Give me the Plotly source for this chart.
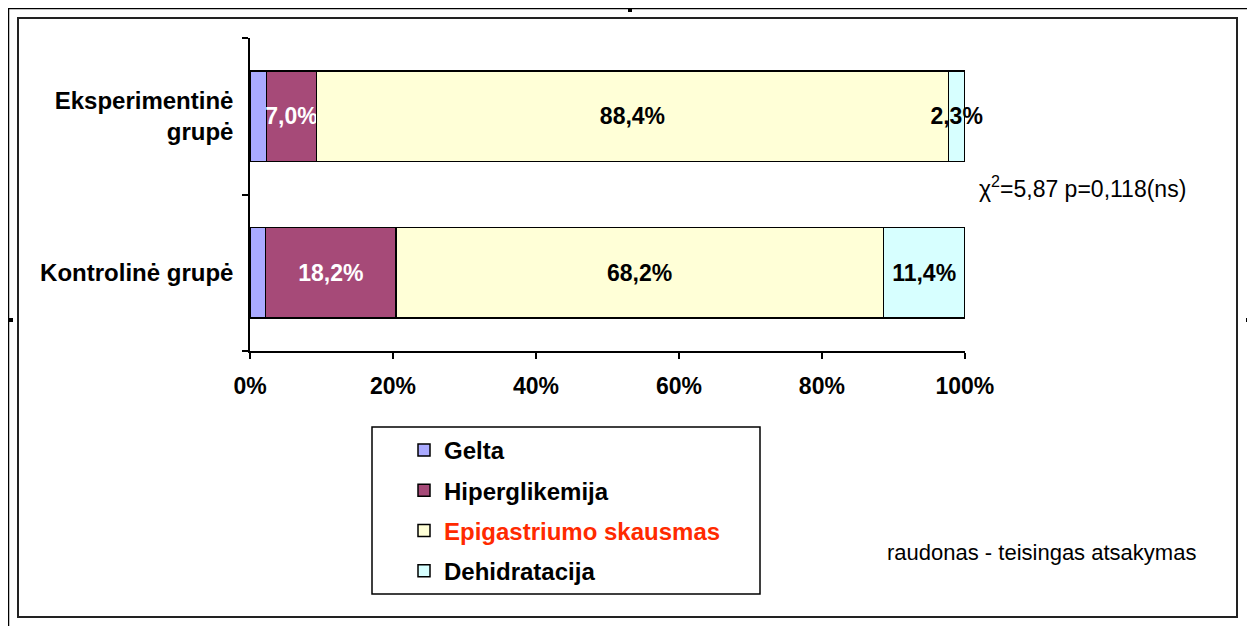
import plotly.graph_objects as go

# ---- data ----
groups = ["Kontrolinė grupė", "Eksperimentinė<br>grupė"]
series_names = ["Gelta", "Hiperglikemija", "Epigastriumo skausmas", "Dehidratacija"]
gelta = [2.2, 2.3]
hiperglikemija = [18.2, 7.0]
epigastriumo = [68.2, 88.4]
dehidratacija = [11.4, 2.3]
x_ticks = [0, 20, 40, 60, 80, 100]
x_tick_labels = ["0%", "20%", "40%", "60%", "80%", "100%"]
correct_answer = "Epigastriumo skausmas"

colors = ["#AAAAFF", "#A64A78", "#FFFFD7", "#D7FFFF"]
label_colors = ["black", "white", "black", "black"]
show_labels = [False, True, True, True]

# page is offset by 8px body margin; target coords are page pixels
OFF = 8
W, H = 1247, 618
L, R, T, B = 242, 290, 30, 275
PW, PH = W - L - R, H - T - B


def px(x):
    return (x - OFF - L) / PW


def py(y):
    return (H - B - (y - OFF)) / PH


FONT = "Liberation Sans, Arial, sans-serif"

fig = go.Figure()
values = [gelta, hiperglikemija, epigastriumo, dehidratacija]
for i, (name, vals) in enumerate(zip(series_names, values)):
    label = name
    if name == correct_answer:
        label = f'<span style="color:#FF2A00">{name}</span>'
    texts = [f"{v:.1f}%".replace(".", ",") for v in vals] if show_labels[i] else None
    fig.add_trace(go.Bar(
        y=groups, x=vals, orientation="h", name=label,
        legendgroup=f"g{i}",
        marker=dict(color=colors[i], line=dict(color="black", width=1.5)),
        text=texts, textposition="inside" if show_labels[i] else "none",
        insidetextanchor="middle",
        textangle=0, constraintext="none", cliponaxis=False,
        textfont=dict(family=FONT, size=23, color=label_colors[i], weight="bold"),
        hoverinfo="skip",
    ))

shapes = []
# outer / inner frames
shapes.append(dict(type="rect", xref="paper", yref="paper",
                   x0=px(8.5), x1=px(1250), y0=py(640), y1=py(8.5),
                   line=dict(color="black", width=1.5)))
shapes.append(dict(type="rect", xref="paper", yref="paper",
                   x0=px(18), x1=px(1237), y0=py(617), y1=py(18),
                   line=dict(color="#222222", width=2)))
# selection handles
for (hx, hy) in [(630, 10), (11, 320), (1248, 320)]:
    shapes.append(dict(type="rect", xref="paper", yref="paper",
                       x0=px(hx - 2), x1=px(hx + 2), y0=py(hy + 2), y1=py(hy - 2),
                       line=dict(width=0), fillcolor="black"))
# legend box
shapes.append(dict(type="rect", xref="paper", yref="paper",
                   x0=px(372), x1=px(760), y0=py(594), y1=py(427),
                   line=dict(color="black", width=1.5)))

fig.update_layout(
    width=W, height=H,
    margin=dict(l=L, r=R, t=T, b=B),
    paper_bgcolor="white", plot_bgcolor="white",
    barmode="stack", bargap=0.42,
    font=dict(family=FONT, size=22, color="black"),
    showlegend=True,
    legend=dict(
        x=px(404), y=py(428), xanchor="left", yanchor="top",
        traceorder="grouped", tracegroupgap=6,
        bgcolor="rgba(0,0,0,0)", borderwidth=0,
        font=dict(family=FONT, size=24, color="black", weight="bold"),
    ),
    xaxis=dict(
        range=[0, 100.02], tickvals=x_ticks, ticktext=x_tick_labels,
        showgrid=False, zeroline=False,
        showline=True, linecolor="black", linewidth=1.5,
        ticks="outside", ticklen=6, tickwidth=1.5, tickcolor="black",
        ticklabelstandoff=8,
        tickfont=dict(family=FONT, size=23, color="black", weight="bold"),
    ),
    yaxis=dict(
        showgrid=False, zeroline=False,
        showline=True, linecolor="black", linewidth=1.5,
        ticks="outside", ticklen=6, tickwidth=1.5, tickcolor="black",
        tickson="boundaries", ticklabelstandoff=10,
        tickfont=dict(family=FONT, size=24, color="black", weight="bold"),
    ),
    shapes=shapes,
    annotations=[
        dict(xref="paper", yref="paper", x=px(977), y=py(187),
             xanchor="left", yanchor="middle", showarrow=False,
             text="χ<sup>2</sup>=5,87 p=0,118(ns)",
             font=dict(family=FONT, size=23, color="black")),
        dict(xref="paper", yref="paper", x=px(885), y=py(552),
             xanchor="left", yanchor="middle", showarrow=False,
             text="raudonas - teisingas atsakymas",
             font=dict(family=FONT, size=22, color="black")),
    ],
)

fig.write_html("out.html")
